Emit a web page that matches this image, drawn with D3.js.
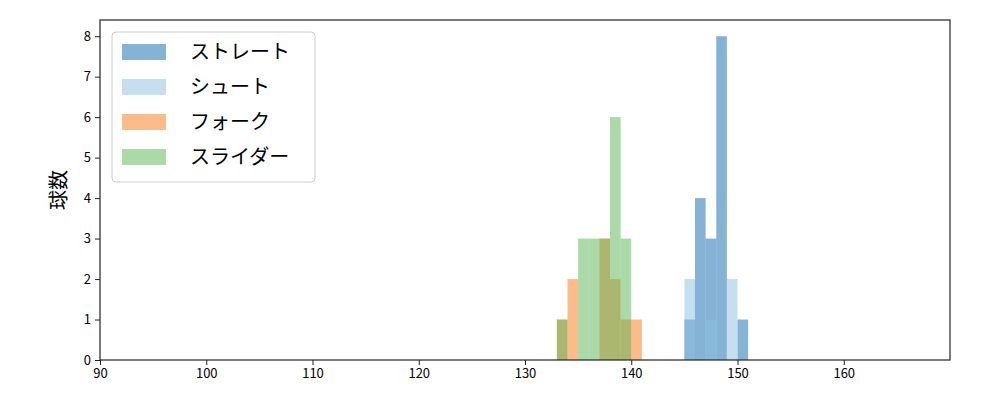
<!DOCTYPE html><html><head><meta charset="utf-8"><script src="https://cdn.jsdelivr.net/npm/d3@7"></script>
<style>body{margin:0;background:#fff}text{font-family:"Noto Sans CJK JP","DejaVu Sans",sans-serif}</style></head><body><svg width="1000" height="400"></svg><script>
const seriesNames=["ストレート","シュート","フォーク","スライダー"];
const colors=["#0967ad","#8bbfdd","#f97717","#59b351"];
const binStarts=[133,134,135,136,137,138,139,140,141,142,143,144,145,146,147,148,149,150];
const straight=[0,0,0,0,0,0,0,0,0,0,0,0,1,4,3,8,0,1];
const shoot=[0,0,0,0,0,0,0,0,0,0,0,0,2,0,1,0,2,0];
const fork=[1,2,0,0,3,2,1,1,0,0,0,0,0,0,0,0,0,0];
const slider=[1,0,3,3,3,6,3,0,0,0,0,0,0,0,0,0,0,0];
const xTicks=[90,100,110,120,130,140,150,160];
const yTicks=[0,1,2,3,4,5,6,7,8];
const svg=d3.select("svg");
const x=d3.scaleLinear().domain([90,170]).range([100,950]);
const y=d3.scaleLinear().domain([0,8.4]).range([360,20]);
[straight,shoot,fork,slider].forEach((s,i)=>{
 svg.append("g").selectAll("rect").data(binStarts.map((b,j)=>({b,v:s[j]})).filter(d=>d.v>0)).join("rect")
 .attr("x",d=>x(d.b)).attr("width",d=>x(d.b+1)-x(d.b)).attr("y",d=>y(d.v)).attr("height",d=>y(0)-y(d.v))
 .attr("fill",colors[i]).attr("fill-opacity",0.5);
});
const xa=svg.append("g").attr("transform","translate(0,360)").call(d3.axisBottom(x).tickValues(xTicks).tickSize(5).tickPadding(4));
const ya=svg.append("g").attr("transform","translate(100,0)").call(d3.axisLeft(y).tickValues(yTicks).tickSize(5).tickPadding(4));
[xa,ya].forEach(a=>{a.selectAll("text").attr("font-size",13).attr("font-family","DejaVu Sans").attr("fill","#000");a.select(".domain").remove();a.selectAll("line").attr("stroke","#222")});
svg.append("rect").attr("x",100).attr("y",20).attr("width",850).attr("height",340).attr("fill","none").attr("stroke","#222").attr("stroke-width",1.2);
svg.append("text").attr("transform","translate(66,190) rotate(-90)").attr("text-anchor","middle").attr("font-size",20).text("球数");
const lg=svg.append("g");
lg.append("rect").attr("x",112).attr("y",32).attr("width",203).attr("height",150).attr("rx",4).attr("fill","#fff").attr("fill-opacity",0.8).attr("stroke","#ccc");
seriesNames.forEach((n,i)=>{
 lg.append("rect").attr("x",122).attr("y",44+i*35).attr("width",44).attr("height",16).attr("fill",colors[i]).attr("fill-opacity",0.5);
 lg.append("text").attr("x",190).attr("y",59+i*35).attr("font-size",20).text(n);
});
</script></body></html>
